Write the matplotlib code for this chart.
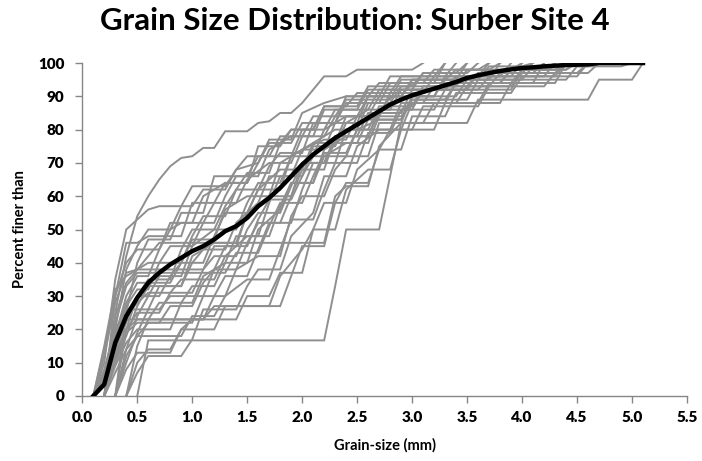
import matplotlib
matplotlib.use("Agg")
import matplotlib.pyplot as plt
import numpy as np

# courbes granulométriques individuelles (taille en mm, % passant)
s01 = [(0.2,0),(0.3,25),(0.4,42),(0.5,54),(0.6,60),(0.7,65),(0.8,69),(0.9,71.5),(1.0,72),(1.1,74.5),(1.2,74.5),(1.3,79.5),(1.5,79.5),(1.6,82),(1.7,82.5),(1.8,85),(1.9,85),(2.0,88),(2.2,96),(2.4,96),(2.5,98),(3.0,98),(3.1,100)]
s02 = [(0.1,0),(0.2,10),(0.3,35),(0.4,50),(0.5,53),(0.6,56),(0.7,57),(1.0,57),(1.1,62),(1.3,62),(1.4,68),(1.6,70),(1.7,77),(1.9,77),(2.0,85),(2.2,88),(2.4,90),(2.7,90),(2.8,96),(3.2,96),(3.3,100)]
s03 = [(0.2,0),(0.3,30),(0.4,46),(0.5,46),(0.6,48),(0.9,48),(1.0,58),(1.2,58),(1.3,64),(1.5,64),(1.6,75),(1.8,75),(1.9,80),(2.1,80),(2.2,87),(2.5,87),(2.6,93),(3.0,93),(3.1,97),(3.5,97),(3.6,100)]
s04 = [(0.1,0),(0.2,12),(0.3,28),(0.4,37),(0.5,38),(1.1,38),(1.2,45),(1.4,45),(1.5,55),(1.6,62),(1.8,62),(1.9,72),(2.1,72),(2.2,80),(2.4,84),(2.6,84),(2.7,90),(2.9,90),(3.0,95),(3.4,95),(3.5,100)]
s05 = [(0.2,0),(0.3,20),(0.4,38),(0.5,45),(0.6,50),(0.8,50),(0.9,57),(1.0,63),(1.3,63),(1.4,68),(1.5,72),(1.7,72),(1.8,78),(2.0,78),(2.1,84),(2.3,84),(2.4,89),(2.8,89),(2.9,95),(3.3,95),(3.4,98),(3.7,98),(3.8,100)]
s06 = [(0.1,0),(0.2,15),(0.3,32),(0.4,36),(0.5,38),(0.6,42),(0.7,46),(2.2,46),(2.3,60),(2.4,63),(2.6,63),(2.7,75),(2.9,82),(3.1,82),(3.2,88),(3.6,88),(3.7,94),(4.1,94),(4.2,100)]
s07 = [(0.2,0),(0.3,18),(0.4,30),(0.5,36),(0.6,36),(0.7,44),(0.8,52),(1.0,52),(1.1,60),(1.3,64),(1.5,64),(1.6,70),(1.7,76),(1.9,76),(2.0,82),(2.3,82),(2.4,90),(2.6,90),(2.7,94),(3.2,94),(3.3,100)]
s08 = [(0.3,0),(0.4,25),(0.5,40),(0.6,47),(0.8,47),(0.9,55),(1.1,55),(1.2,66),(1.5,66),(1.6,72),(1.9,72),(2.0,80),(2.2,80),(2.3,86),(2.6,86),(2.7,92),(3.3,92),(3.4,96),(3.9,96),(4.0,100)]
s09 = [(0.1,0),(0.2,8),(0.3,20),(0.4,26),(0.6,26),(0.7,33),(0.9,33),(1.0,42),(1.2,46),(1.4,46),(1.5,55),(1.7,60),(1.9,60),(2.0,70),(2.2,70),(2.3,78),(2.5,78),(2.6,85),(2.9,85),(3.0,92),(3.5,92),(3.6,97),(4.0,97),(4.1,100)]
s10 = [(0.2,0),(0.3,14),(0.4,22),(0.5,30),(0.7,30),(0.8,36),(0.9,40),(1.1,40),(1.2,48),(1.3,55),(1.5,55),(1.6,62),(1.8,68),(2.0,68),(2.1,76),(2.3,80),(2.5,80),(2.6,88),(2.8,88),(2.9,93),(3.4,93),(3.5,98),(3.9,98),(4.0,100)]
s11 = [(0.1,0),(0.2,5),(0.3,16),(0.4,23),(0.6,23),(0.7,28),(1.0,28),(1.1,36),(1.3,40),(1.5,40),(1.6,50),(1.8,56),(1.9,64),(2.1,64),(2.2,74),(2.4,78),(2.6,78),(2.7,86),(3.0,86),(3.1,92),(3.6,92),(3.7,96),(4.3,96),(4.4,100)]
s12 = [(0.2,0),(0.3,10),(0.4,18),(0.5,27),(0.6,33),(0.9,33),(1.0,40),(1.1,44),(1.3,44),(1.4,52),(1.6,58),(1.7,66),(1.9,66),(2.0,74),(2.2,77),(2.4,77),(2.5,84),(2.7,84),(2.8,90),(3.2,90),(3.3,95),(3.7,95),(3.8,100)]
s13 = [(0.2,0),(0.3,12),(0.4,20),(0.5,23),(1.1,23),(1.2,30),(1.3,36),(1.5,36),(1.6,44),(1.7,52),(1.9,52),(2.0,62),(2.1,70),(2.3,70),(2.4,80),(2.6,80),(2.7,87),(3.0,87),(3.1,93),(3.5,93),(3.6,97),(4.5,97),(4.6,100)]
s14 = [(0.3,0),(0.4,14),(0.5,24),(0.6,30),(0.7,36),(0.9,36),(1.0,45),(1.2,50),(1.4,50),(1.5,58),(1.6,64),(1.8,64),(1.9,72),(2.1,76),(2.3,76),(2.4,84),(2.7,84),(2.8,91),(3.1,91),(3.2,96),(3.6,96),(3.7,100)]
s15 = [(0.1,0),(0.2,6),(0.3,18),(0.4,28),(0.5,34),(0.8,34),(0.9,40),(1.0,47),(1.2,47),(1.3,56),(1.5,60),(1.7,60),(1.8,70),(2.0,74),(2.2,74),(2.3,82),(2.5,82),(2.6,90),(2.9,90),(3.0,94),(3.8,94),(3.9,98),(4.4,98),(4.5,100)]
s16 = [(0.2,0),(0.3,9),(0.4,16),(0.5,20),(0.8,20),(0.9,28),(1.0,33),(1.2,33),(1.3,40),(1.4,48),(1.6,48),(1.7,58),(1.8,66),(2.0,66),(2.1,75),(2.3,75),(2.4,82),(2.6,86),(2.8,86),(2.9,92),(3.3,92),(3.4,96),(4.2,96),(4.3,100)]
s17 = [(0.2,0),(0.3,15),(0.4,24),(0.5,28),(0.6,31),(1.0,31),(1.1,38),(1.2,42),(1.4,42),(1.5,50),(1.6,55),(1.8,55),(1.9,63),(2.0,70),(2.2,70),(2.3,76),(2.5,76),(2.6,83),(2.9,83),(3.0,90),(3.4,90),(3.5,95),(4.4,95),(4.5,99),(4.9,99),(5.0,100)]
s18 = [(0.3,0),(0.4,10),(0.5,19),(0.6,26),(0.7,26),(0.8,30),(1.1,30),(1.2,38),(1.3,45),(1.5,45),(1.6,53),(1.7,59),(1.9,59),(2.0,66),(2.1,72),(2.4,72),(2.5,80),(2.8,80),(2.9,88),(3.1,88),(3.2,93),(3.7,93),(3.8,97),(4.1,97),(4.2,100)]
s19 = [(0.1,0),(0.2,4),(0.3,13),(0.4,20),(0.5,25),(0.7,25),(0.8,31),(0.9,35),(1.2,35),(1.3,42),(1.5,48),(1.7,48),(1.8,57),(1.9,64),(2.1,64),(2.2,72),(2.4,76),(2.6,76),(2.7,84),(2.9,84),(3.0,88),(3.3,88),(3.4,94),(3.9,94),(4.0,98),(4.3,98),(4.4,100)]
s20 = [(0.2,0),(0.3,11),(0.4,19),(0.5,22),(0.7,22),(0.8,27),(1.0,27),(1.1,34),(1.2,38),(1.4,38),(1.5,46),(1.6,52),(1.8,52),(1.9,60),(2.0,68),(2.2,68),(2.3,78),(2.6,78),(2.7,85),(2.9,85),(3.0,89),(3.5,89),(3.6,95),(4.0,95),(4.1,99),(4.6,99),(4.7,100)]
s21 = [(0.5,0),(0.6,16.7),(2.2,16.7),(2.3,33),(2.4,50),(2.7,50),(2.8,66),(2.9,82),(3.5,82),(3.6,89),(4.6,89),(4.7,95),(5.0,95),(5.1,100)]
s22 = [(0.4,0),(0.5,10),(0.6,14),(0.8,14),(0.9,20),(1.2,20),(1.3,27),(1.8,27),(1.9,36),(2.0,45),(2.2,45),(2.3,58),(2.4,64),(2.6,64),(2.7,74),(2.8,80),(3.0,80),(3.1,87),(3.6,87),(3.7,93),(4.2,93),(4.3,97),(4.6,97),(4.7,100)]
s23 = [(0.3,0),(0.4,8),(0.5,13),(0.8,13),(0.9,20),(1.0,23),(1.4,23),(1.5,30),(1.7,30),(1.8,37),(2.0,37),(2.1,50),(2.2,58),(2.4,58),(2.5,68),(2.7,74),(2.9,74),(3.0,84),(3.3,84),(3.4,91),(3.9,91),(4.0,96),(4.5,96),(4.6,100)]
s24 = [(0.4,0),(0.5,15),(0.6,23),(1.1,23),(1.2,27),(1.7,27),(1.8,36),(2.0,44),(2.1,50),(2.3,50),(2.4,62),(2.6,68),(2.8,68),(2.9,80),(3.2,80),(3.3,88),(3.8,88),(3.9,94),(4.3,94),(4.4,100)]
s25 = [(0.2,0),(0.3,7),(0.4,14),(0.5,18),(0.9,18),(1.0,24),(1.2,24),(1.3,30),(1.5,35),(1.7,35),(1.8,44),(1.9,53),(2.1,53),(2.2,62),(2.3,70),(2.5,70),(2.6,79),(2.8,79),(2.9,86),(3.2,86),(3.3,92),(3.9,92),(4.0,98),(4.4,98),(4.5,100)]
s26 = [(0.4,0),(0.5,7),(0.6,12),(0.9,12),(1.0,17),(1.1,26),(1.4,26),(1.5,33),(1.6,38),(1.8,38),(1.9,48),(2.1,55),(2.2,66),(2.4,66),(2.5,75),(2.7,80),(2.9,80),(3.0,88),(3.4,88),(3.5,93),(3.9,93),(4.0,97),(4.3,97),(4.4,100)]
s27 = [(0.1,0),(0.2,7),(0.3,22),(0.4,33),(0.5,37),(1.3,37),(1.4,43),(1.6,43),(1.7,51),(1.8,58),(2.0,58),(2.1,66),(2.2,73),(2.4,73),(2.5,80),(2.7,83),(2.9,83),(3.0,89),(3.3,89),(3.4,94),(3.8,94),(3.9,98),(4.2,98),(4.3,100)]
s28 = [(0.3,0),(0.4,12),(0.5,18),(0.6,22),(1.0,22),(1.1,30),(1.3,30),(1.4,38),(1.6,42),(1.8,42),(1.9,54),(2.0,60),(2.2,60),(2.3,68),(2.4,72),(2.6,72),(2.7,82),(2.9,82),(3.0,90),(3.2,90),(3.3,96),(3.8,96),(3.9,100)]
s29 = [(0.1,0),(0.2,14),(0.3,30),(0.4,40),(0.5,44),(0.7,44),(0.8,50),(0.9,52),(1.2,52),(1.3,60),(1.4,66),(1.6,66),(1.7,74),(1.9,78),(2.1,78),(2.2,86),(2.5,86),(2.6,92),(3.0,92),(3.1,97),(3.4,97),(3.5,100)]
s30 = [(0.2,0),(0.3,24),(0.4,34),(0.5,38),(0.6,40),(0.9,40),(1.0,48),(1.1,54),(1.3,54),(1.4,62),(1.5,67),(1.7,67),(1.8,76),(1.9,80),(2.1,80),(2.2,87),(2.4,87),(2.5,91),(2.8,91),(2.9,96),(3.3,96),(3.4,100)]
s31 = [(0.3,0),(0.4,20),(0.5,30),(0.6,35),(0.8,35),(0.9,44),(1.0,50),(1.2,50),(1.3,57),(1.4,62),(1.6,62),(1.7,69),(1.8,73),(2.0,73),(2.1,82),(2.3,82),(2.4,88),(2.7,88),(2.8,94),(3.1,94),(3.2,98),(3.6,98),(3.7,100)]
s32 = [(0.2,0),(0.3,16),(0.4,27),(0.5,32),(0.6,32),(0.7,40),(0.8,45),(1.0,45),(1.1,52),(1.2,58),(1.4,58),(1.5,65),(1.7,70),(1.9,70),(2.0,78),(2.2,78),(2.3,84),(2.5,84),(2.6,90),(2.9,90),(3.0,95),(3.6,95),(3.7,99),(4.0,99),(4.1,100)]

echantillons = [s01, s02, s03, s04, s05, s06, s07, s08, s09, s10, s11, s12, s13, s14, s15, s16,
                s17, s18, s19, s20, s21, s22, s23, s24, s25, s26, s27, s28, s29, s30, s31, s32]

# courbe moyenne
moy_x = [0.1, 0.2, 0.3, 0.4, 0.5, 0.6, 0.7, 0.8, 0.9, 1.0, 1.1, 1.2, 1.3, 1.4, 1.5, 1.6, 1.7, 1.8,
         1.9, 2.0, 2.1, 2.2, 2.3, 2.4, 2.5, 2.6, 2.7, 2.8, 2.9, 3.0, 3.1, 3.2, 3.3, 3.4, 3.5, 3.6,
         3.7, 3.8, 3.9, 4.0, 4.1, 4.2, 4.3, 4.4, 4.5, 4.6, 4.7, 4.8, 4.9, 5.0, 5.1]
moy_y = [0, 3.5, 16, 24, 29.5, 34, 37, 39.5, 41.5, 43.5, 45, 47, 49.5, 51, 53.5, 57, 59.5, 62.5,
         66, 69.5, 72.5, 75, 77.5, 79.5, 81.5, 83.5, 85.5, 87.5, 89, 90.3, 91.3, 92.3, 93.3, 94.3,
         95.5, 96.3, 97, 97.6, 98.1, 98.5, 98.7, 99, 99.2, 99.4, 99.5, 99.6, 100, 100, 100, 100, 100]

xticks = np.arange(0, 5.51, 0.5)
yticks = np.arange(0, 101, 10)

plt.rcParams['font.family'] = ['Lato', 'DejaVu Sans']

fig = plt.figure(figsize=(7.02, 4.61), dpi=100)
ax = fig.add_axes([0.1172, 0.141, 0.8614, 0.7223])

for s in echantillons:
    xs, ys = zip(*s)
    ax.plot(xs, ys, '-', color='#8f8f8f', lw=1.4, solid_joinstyle='miter', zorder=2)

ax.plot(moy_x, moy_y, '-', color='black', lw=3.2, zorder=3)

ax.set_xlim(0, 5.5)
ax.set_ylim(0, 100)
ax.set_xticks(xticks)
ax.set_yticks(yticks)
ax.set_xticklabels(['%.1f' % v for v in xticks], fontsize=11, fontweight='heavy')
ax.set_yticklabels(['%d' % v for v in yticks], fontsize=11, fontweight='heavy')

for sp in ['top', 'right']:
    ax.spines[sp].set_visible(False)
for sp in ['left', 'bottom']:
    ax.spines[sp].set_color('#868686')
    ax.spines[sp].set_linewidth(1.0)
ax.tick_params(axis='both', colors='#868686', length=5, width=1.0, labelcolor='black')
ax.tick_params(axis='x', pad=6)
ax.tick_params(axis='y', pad=8)

ax.set_xlabel('Grain-size (mm)', fontsize=10.5, fontweight='bold', labelpad=10)
ax.set_ylabel('Percent finer than', fontsize=10.5, fontweight='bold', labelpad=8)
fig.text(0.505, 0.955, 'Grain Size Distribution: Surber Site 4', ha='center', va='center',
         fontsize=22.5, fontweight='bold')

fig.savefig('out.png', dpi=100)
